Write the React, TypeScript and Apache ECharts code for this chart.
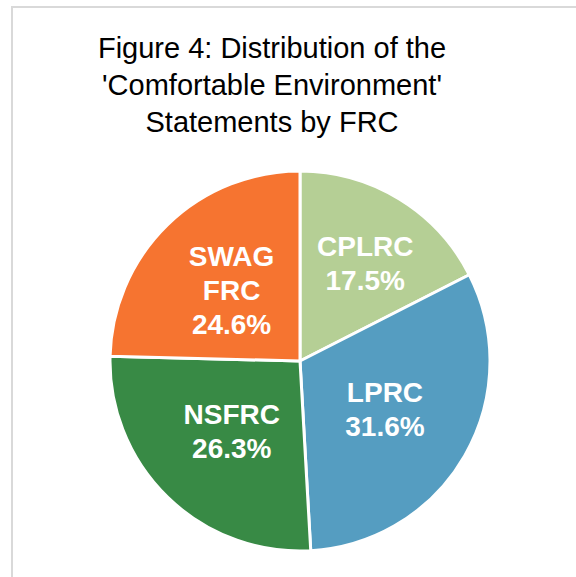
import React, { useEffect, useRef } from "react";
import * as echarts from "echarts";

const titleLines = [
  "Figure 4: Distribution of the",
  "'Comfortable Environment'",
  "Statements by FRC",
];
const categories = ["CPLRC", "LPRC", "NSFRC", "SWAG FRC"];
const percentValues = [17.5, 31.6, 26.3, 24.6];
const sliceColors = ["#b5cf95", "#559dc1", "#388a45", "#f67430"];

export default function App() {
  const ref = useRef<HTMLDivElement>(null);
  useEffect(() => {
    document.body.style.margin = "0";
    const chart = echarts.init(ref.current!, null, { renderer: "svg" });
    chart.setOption({
      animation: false,
      backgroundColor: "#ffffff",
      graphic: [
        {
          type: "rect",
          shape: { x: 12, y: 7, width: 700, height: 700 },
          style: { fill: "none", stroke: "#d9d9d9", lineWidth: 2 },
          silent: true,
        },
        {
          type: "text",
          x: 272,
          y: 29,
          style: {
            text: titleLines.join("\n"),
            textAlign: "center",
            textVerticalAlign: "top",
            fontFamily: "Arial, 'Liberation Sans', sans-serif",
            fontSize: 29,
            lineHeight: 37,
            fill: "#000000",
          },
        },
      ],
      series: [
        {
          type: "pie",
          center: [300, 361],
          radius: 190,
          startAngle: 90,
          clockwise: true,
          silent: true,
          data: categories.map((name, i) => ({
            name,
            value: percentValues[i],
            itemStyle: { color: sliceColors[i] },
          })),
          itemStyle: { borderColor: "#ffffff", borderWidth: 3 },
          label: {
            show: true,
            position: "inside",
            formatter: (p: any) => `${p.name.replace(" ", "\n")}\n${p.value.toFixed(1)}%`,
            color: "#ffffff",
            fontFamily: "Arial, 'Liberation Sans', sans-serif",
            fontWeight: "bold",
            fontSize: 28,
            lineHeight: 34,
          },
          labelLayout: (params: any) =>
            params.dataIndex === 0 ? { dx: 14, dy: -14 } : {},
          labelLine: { show: false },
          emphasis: { disabled: true },
        },
      ],
    });
    return () => chart.dispose();
  }, []);
  return <div ref={ref} style={{ width: 576, height: 577 }} />;
}
